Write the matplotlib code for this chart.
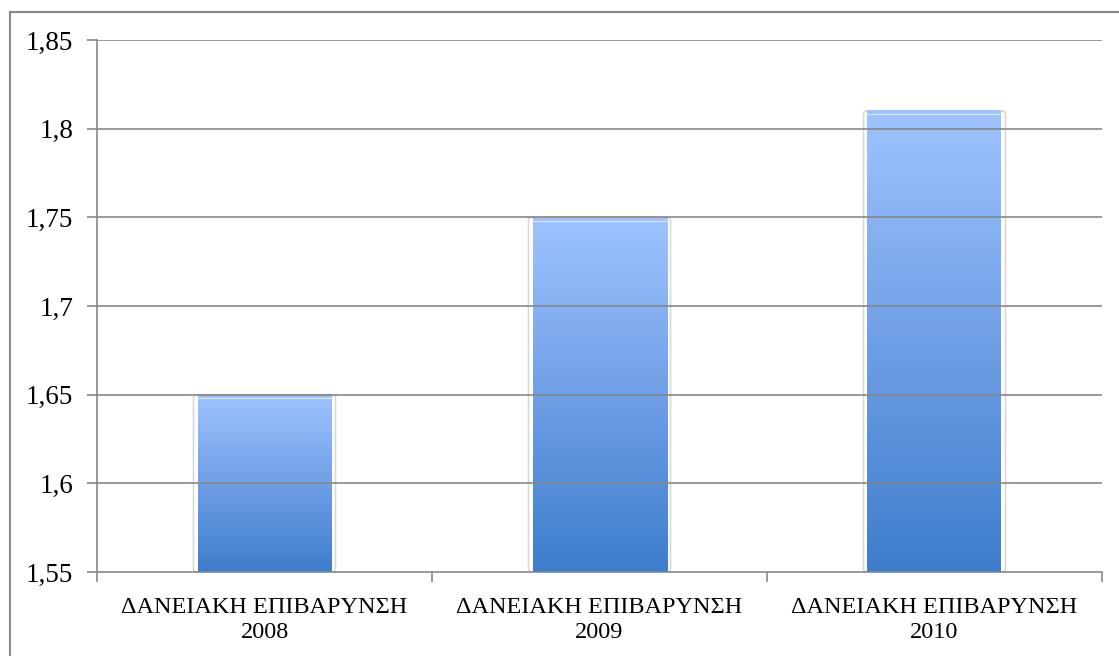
import numpy as np
import matplotlib
matplotlib.use("Agg")
import matplotlib.pyplot as plt
from matplotlib.colors import LinearSegmentedColormap
from matplotlib.patches import FancyBboxPatch

categories = ["ΔΑΝΕΙΑΚΗ ΕΠΙΒΑΡΥΝΣΗ\n2008", "ΔΑΝΕΙΑΚΗ ΕΠΙΒΑΡΥΝΣΗ\n2009", "ΔΑΝΕΙΑΚΗ ΕΠΙΒΑΡΥΝΣΗ\n2010"]
values = [1.65, 1.75, 1.81]
yticks = [1.55, 1.6, 1.65, 1.7, 1.75, 1.8, 1.85]
ytick_labels = ["1,55", "1,6", "1,65", "1,7", "1,75", "1,8", "1,85"]

plt.rcParams["font.family"] = ["Liberation Serif", "DejaVu Serif"]

W, H = 1119, 656
fig = plt.figure(figsize=(W / 100, H / 100), dpi=100)

# outer chart border (top and left only visible)
fig.add_artist(plt.Line2D([9.5 / W, 9.5 / W], [0, 1 - 12 / H], color="#8a8a8a", lw=1.5))
fig.add_artist(plt.Line2D([9.5 / W, 1], [1 - 12 / H, 1 - 12 / H], color="#8a8a8a", lw=1.5))

ax = fig.add_axes([97 / W, (H - 572) / H, (1102 - 97) / W, (572 - 40) / H])
ymin, ymax = 1.55, 1.85

cmap = LinearSegmentedColormap.from_list("bar", ["#3d7dcc", "#6f9fe6", "#9ec4ff"])
grad = np.linspace(0, 1, 256).reshape(-1, 1)
bar_w = 0.4
for i, v in enumerate(values):
    x0 = i + 0.5 - bar_w / 2
    # faint shadow/outline
    shadow = FancyBboxPatch((x0 - 0.012, ymin), bar_w + 0.024, v - ymin,
                            boxstyle="round,pad=0,rounding_size=0.01",
                            fc="none", ec="#d8d8d8", lw=1.2, zorder=1,
                            mutation_aspect=(ymax - ymin) / 3 * 1006 / 532)
    ax.add_patch(shadow)
    ax.imshow(grad, extent=[x0, x0 + bar_w, ymin, v], origin="lower",
              aspect="auto", cmap=cmap, zorder=2)
    ax.plot([x0, x0 + bar_w], [v - 0.002, v - 0.002], color="white", lw=0.8, alpha=0.6, zorder=2.5)

ax.set_xlim(0, 3)
ax.set_ylim(ymin, ymax)

for y in yticks[1:]:
    ax.axhline(y, color="#878787", lw=1.2, zorder=3)

ax.set_yticks(yticks)
ax.set_yticklabels(ytick_labels, fontsize=19.5)
ax.set_xticks([0.5, 1.5, 2.5])
ax.set_xticklabels(categories, fontsize=17.5, linespacing=1.25)
ax.set_xticks([0, 1, 2, 3], minor=True)
ax.tick_params(axis="x", which="major", length=0, pad=18)
ax.tick_params(axis="x", which="minor", length=7, width=1.2, color="#878787")
ax.tick_params(axis="y", length=7, width=1.2, color="#878787", pad=10)

for s in ["top", "right"]:
    ax.spines[s].set_visible(False)
for s in ["left", "bottom"]:
    ax.spines[s].set_color("#878787")
    ax.spines[s].set_linewidth(1.2)
    ax.spines[s].set_zorder(4)

fig.savefig("out.png", dpi=100)
